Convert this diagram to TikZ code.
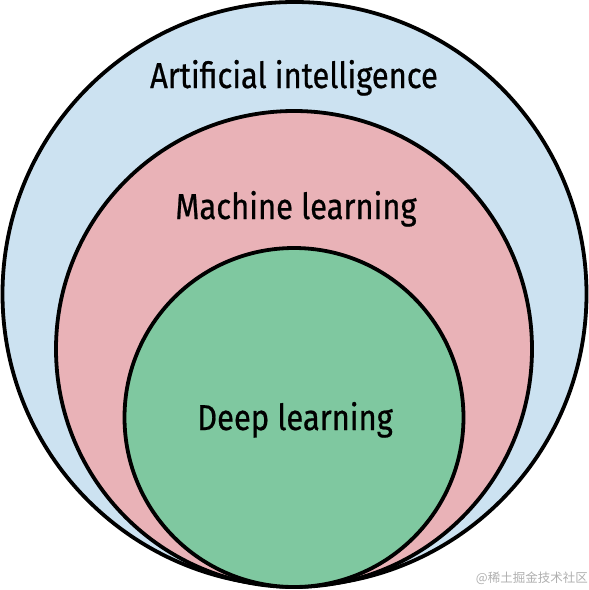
\documentclass[tikz,border=0pt]{standalone}
\usepackage{fontspec}
\newfontfamily\labfont[FakeStretch=0.86,FakeBold=0.6]{Fira Sans}
\newfontfamily\cjk{Noto Sans CJK SC}
\definecolor{aiblue}{RGB}{204,226,241}
\definecolor{mlpink}{RGB}{233,178,183}
\definecolor{dlgreen}{RGB}{127,200,160}
\definecolor{wmgray}{RGB}{175,175,175}
\begin{document}
\begin{tikzpicture}[x=1pt,y=-1pt,
  ring/.style={circle,draw=black,line width=3.8pt,inner sep=0pt},
  lab/.style={font=\labfont\fontsize{36}{42}\selectfont,anchor=base,inner sep=0pt}]
\useasboundingbox (0,0) rectangle (589,590);
\node[ring,fill=aiblue,minimum size=584pt] (ai) at (294.5,294) {};
\node[ring,fill=mlpink,minimum size=476pt] (ml) at (294,349) {};
\node[ring,fill=dlgreen,minimum size=339pt] (dl) at (294,417.5) {};
\node[lab] (tai) at (294,88) {Artificial intelligence};
\node[lab] (tml) at (296,219) {Machine learning};
\node[lab] (tdl) at (295,430) {Deep learning};
\node[font=\cjk\fontsize{12.5}{14}\selectfont,text=wmgray,anchor=east,inner sep=0pt] (wm) at (588,578) {@稀土掘金技术社区};
\end{tikzpicture}
\end{document}
